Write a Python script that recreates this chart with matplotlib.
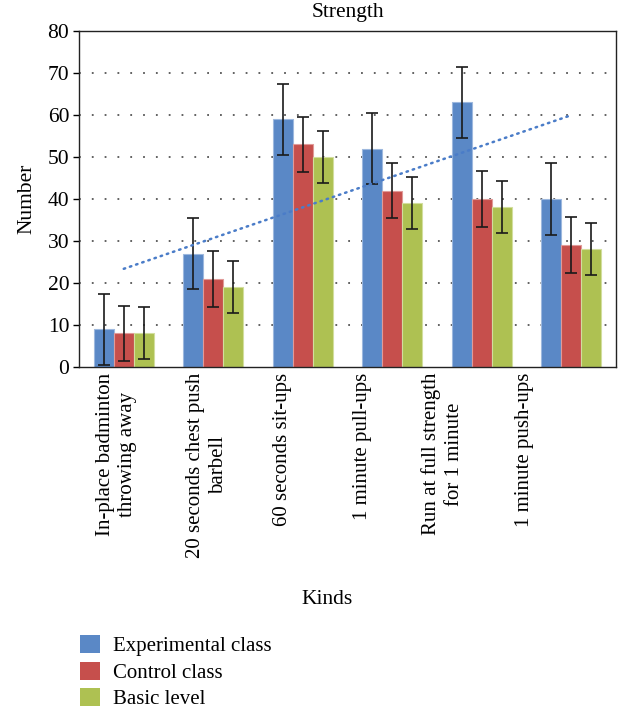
import numpy as np
import matplotlib
matplotlib.use("Agg")
import matplotlib.pyplot as plt
from matplotlib.patches import Patch

plt.rcParams['font.family'] = ['Liberation Serif', 'DejaVu Serif']

# Data
kinds = ["In-place badminton\nthrowing away",
         "20 seconds chest push\nbarbell",
         "60 seconds sit-ups",
         "1 minute pull-ups",
         "Run at full strength\nfor 1 minute",
         "1 minute push-ups"]
series = ["Experimental class", "Control class", "Basic level"]
experimental = [9, 27, 59, 52, 63, 40]
control = [8, 21, 53, 42, 40, 29]
basic = [8, 19, 50, 39, 38, 28]
errors = [8.5, 6.6, 6.2]
# the category labels in the source sit a little left of their bar groups
label_pos = [0.92, 1.93, 2.77, 3.67, 4.56, 5.48]
colors = ["#5A88C6", "#C64F4C", "#AEC152"]
edges = ["#9DB8DE", "#E09A98", "#D2DE9E"]

fig = plt.figure(figsize=(6.33, 7.11), dpi=100)
ax = fig.add_axes([0.1248, 0.4838, 0.9731 - 0.1248, 0.9564 - 0.4838])

x = np.arange(1, len(kinds) + 1)
w = 0.222
for i, vals in enumerate([experimental, control, basic]):
    ax.bar(x + (i - 1) * w, vals, w, color=colors[i], edgecolor=edges[i],
           linewidth=0.8, zorder=2)
    ax.errorbar(x + (i - 1) * w, vals, yerr=errors[i], fmt='none',
                ecolor='#1a1a1a', elinewidth=1.2, capsize=4, capthick=1.2, zorder=3)

# linear trendline of the experimental class
k, b = np.polyfit(x, experimental, 1)
ax.plot(x, k * x + b, color='#4A7CC8', lw=1.8, linestyle=(0, (0.6, 2.0)),
        dash_capstyle='round', zorder=4)

ax.set_xlim(0.5, 6.5)
ax.set_ylim(0, 80)
ax.set_yticks(range(0, 81, 10))
for yv in range(10, 80, 10):
    ax.axhline(yv, color='#555555', lw=1.3, linestyle=(0, (1.0, 6.1)), zorder=1)

ax.set_xticks(label_pos)
ax.set_xticklabels(kinds, rotation=90, ha='center', va='top',
                   multialignment='center', fontsize=15, linespacing=1.25)
ax.tick_params(axis='x', length=0, pad=4)
ax.tick_params(axis='y', length=4.5, width=1, labelsize=15.5, pad=2.5)
for s in ax.spines.values():
    s.set_color('#222222')
    s.set_linewidth(1.0)

ax.set_title("Strength", fontsize=15.5, pad=10)
ax.set_ylabel("Number", fontsize=15.5, labelpad=8)
fig.text(327 / 633, 1 - 599 / 711, "Kinds", ha='center', va='center', fontsize=15.5)

handles = [Patch(facecolor=c, edgecolor='none') for c in colors]
fig.legend(handles, series, loc='upper left', bbox_to_anchor=(72 / 633, 1 - 627 / 711),
           frameon=False, fontsize=15, handlelength=0.95, handleheight=0.95,
           labelspacing=0.25, handletextpad=0.6, borderaxespad=0)

fig.savefig("out.png", dpi=100)
